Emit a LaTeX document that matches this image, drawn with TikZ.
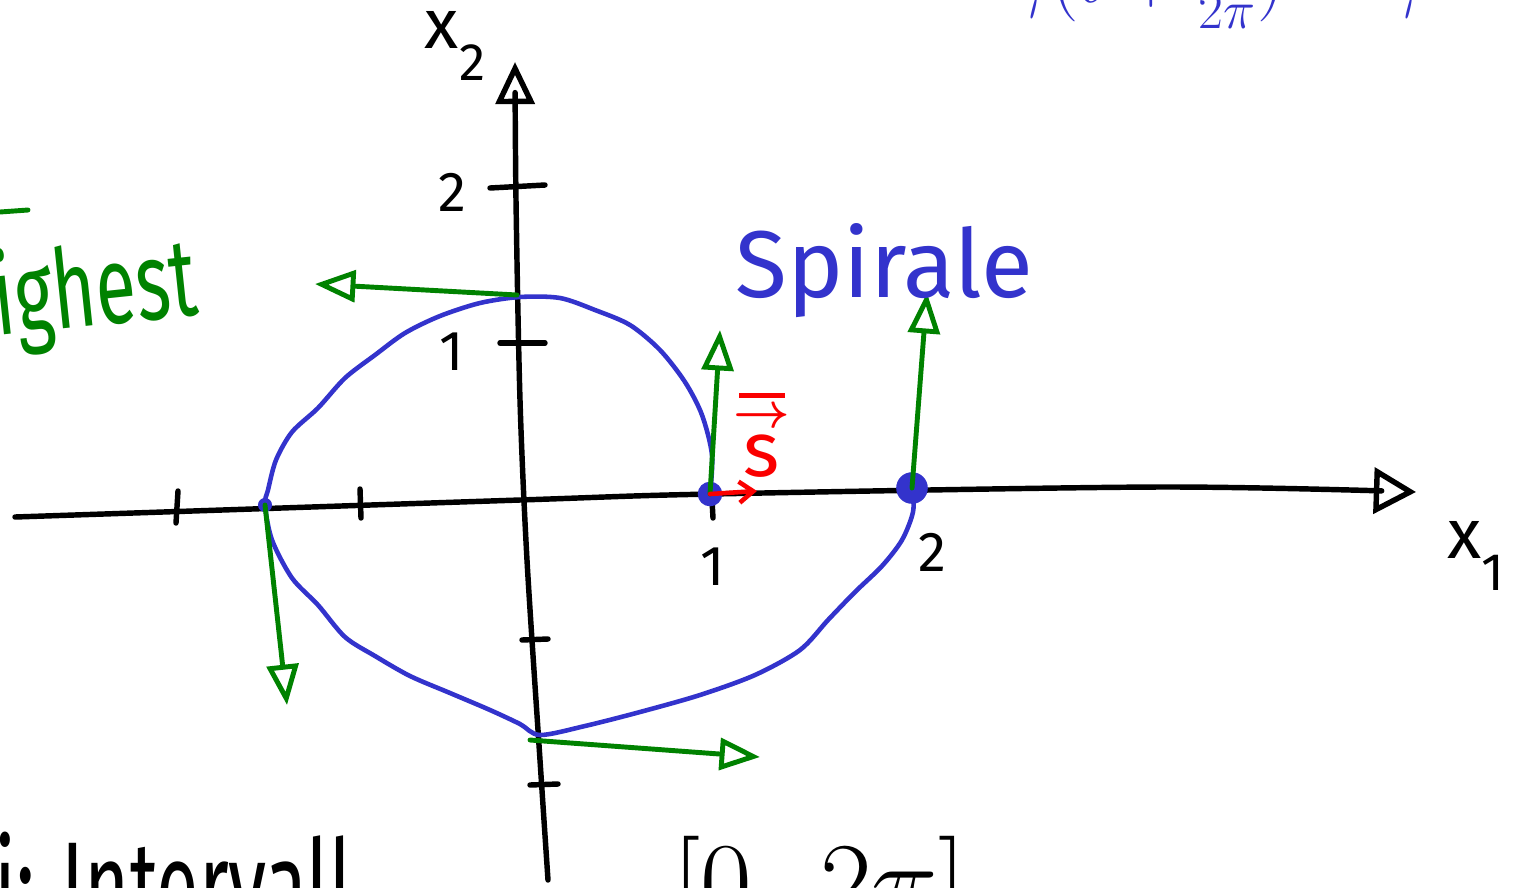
\RequirePackage{fix-cm}
\documentclass[tikz,border=0pt]{standalone}
\usepackage{fontspec}
\setmainfont{Fira Sans}
\usepackage{graphicx}
\usetikzlibrary{arrows.meta}
\definecolor{spblue}{RGB}{51,51,204}
\definecolor{tgreen}{RGB}{0,130,0}
\definecolor{vred}{RGB}{250,0,0}
\newcommand\hfs[1]{\fontsize{#1}{#1}\selectfont}
\begin{document}
\begin{tikzpicture}[x=0.02cm,y=-0.02cm,line cap=round,line join=round,
  axis/.style={line width=3.1pt,black},
  tickmark/.style={line width=3.1pt,black},
  curve/.style={line width=2.6pt,spblue},
  tangent/.style={line width=2.8pt,tgreen,-{Triangle[open,length=23pt,width=18pt,line width=2.8pt]}},
  dot/.style={fill=spblue,circle,inner sep=0pt,minimum size=#1},
  lbl/.style={font=\hfs{32},inner sep=0pt}]
\useasboundingbox (0,0) rectangle (1522,887);
\fill[white] (0,0) rectangle (1522,887);

% axes
\draw[axis,-{Triangle[open,length=24pt,width=26pt,line width=3.1pt]}] plot[smooth] coordinates {(15,517) (520,500) (712,494) (1160,487) (1416,492)};
\draw[axis,-{Triangle[open,length=24pt,width=22pt,line width=3.1pt]}] plot[smooth] coordinates {(548,880) (540,760) (527,560) (520,400) (516,200) (515,62)};

% ticks
\draw[tickmark] (178,491) -- (176,523);
\draw[tickmark] (360,489) -- (361,518);
\draw[tickmark] (712,500) -- (713,518);
\draw[tickmark] (490,188) -- (545,185);
\draw[tickmark] (500,343) -- (545,343);
\draw[tickmark] (522,640) -- (548,639);
\draw[tickmark] (530,785) -- (558,784);

% tick labels
\node[lbl] (l1x) at (713,567) {1};
\node[lbl] (l2x) at (932,552) {2};
\node[lbl] (l2y) at (452,192) {2};
\node[lbl] (l1y) at (452,352) {1};
\node[font=\hfs{40},inner sep=0pt] (x2) at (455,46) {x\raisebox{-0.45em}{\hfs{30}2}};
\node[font=\hfs{40},inner sep=0pt] (x1) at (1476,556) {x\raisebox{-0.45em}{\hfs{30}1}};

% spiral
\draw[curve] plot[smooth,tension=0.5] coordinates {(710,494) (712,455) (702,415) (685,382) (660,350) (630,325) (595,310) (560,298) (520,297) (480,303) (440,316) (405,333) (375,355) (345,378) (318,408) (292,432) (276,460) (268,490) (265,505) (272,540) (292,578) (318,605) (345,637) (375,656) (410,676) (450,693) (490,710) (520,724) (540,735) (585,726) (640,712) (700,695) (755,675) (800,650) (828,620) (855,592) (882,566) (902,540) (913,512) (913,488)};

% points
\node[dot=14pt] (d1) at (710,494) {};
\node[dot=18pt] (d2) at (912,488) {};
\node[dot=8pt] (d3) at (265,505) {};
\coordinate (ptop) at (517,295);
\coordinate (pbot) at (530,740);

% tangent vectors
\coordinate (t1) at (720,330);
\coordinate (t2) at (927,293);
\coordinate (t3) at (315,284);
\coordinate (t4) at (287,705);
\coordinate (t5) at (760,757);
\draw[tangent] (d1.center) -- (t1);
\draw[tangent] (d2.center) -- (t2);
\draw[tangent] (ptop) -- (t3);
\draw[tangent] (d3.center) -- (t4);
\draw[tangent] (pbot) -- (t5);

% red vector
\coordinate (e1) at (757,491);
\draw[vred,line width=2.6pt,-{Straight Barb[length=8pt,width=12pt,line width=2.6pt]}] (d1.center) -- (e1);
\node[text=vred,font=\hfs{44},inner sep=0pt] (vlab) at (762,435)
  {\shortstack{\rule{26pt}{3pt}\\[3pt]{\hfs{28}\boldmath$\rightarrow$}\\[1pt]s}};

% texts
\node[text=spblue,font=\hfs{54},anchor=base west,inner sep=0pt] (spir) at (735,297) {Spirale};
\node[text=tgreen,font=\hfs{42},anchor=base west,inner sep=0pt,rotate=6] (igh) at (-3,336) {\scalebox{1}[1.5]{ighest}};
\draw[tgreen,line width=2.8pt] (0,212) -- (28,210);
\node[text=spblue,font=\hfs{44},anchor=base west,inner sep=0pt] (topf) at (1008,2) {$\gamma(t+{\textstyle\frac{1}{2\pi}})=\gamma$};
\node[font=\hfs{44},anchor=base west,inner sep=0pt] (intv) at (-6,928) {\scalebox{1}[1.6]{i: Intervall}};
\node[font=\hfs{64},anchor=base west,inner sep=0pt] (ival) at (672,920) {$[0,\,2\pi]$};
\end{tikzpicture}
\end{document}
